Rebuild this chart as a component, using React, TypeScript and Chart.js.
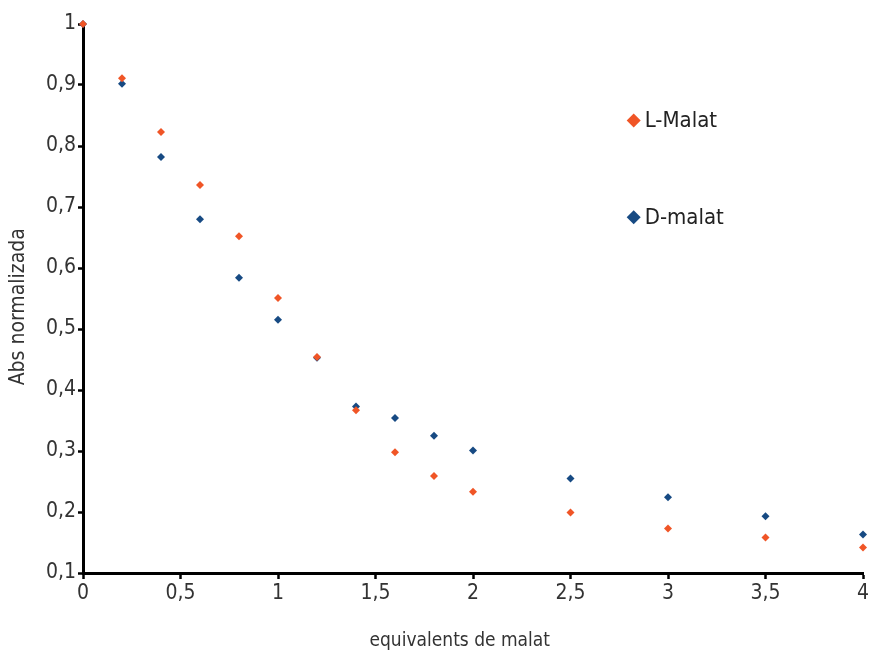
import React, { useEffect, useRef } from "react";
import { Chart, registerables } from "chart.js";

Chart.register(...registerables);

const xValues = [0, 0.2, 0.4, 0.6, 0.8, 1.0, 1.2, 1.4, 1.6, 1.8, 2.0, 2.5, 3.0, 3.5, 4.0];
const lMalat = [1.0, 0.911, 0.823, 0.736, 0.652, 0.551, 0.454, 0.367, 0.298, 0.259, 0.233, 0.199, 0.173, 0.158, 0.142];
const dMalat = [1.0, 0.902, 0.782, 0.68, 0.584, 0.515, 0.453, 0.373, 0.354, 0.325, 0.301, 0.255, 0.224, 0.193, 0.163];
const seriesNames = ["L-Malat", "D-malat"];
const xTitle = "equivalents de malat";
const yTitle = "Abs normalizada";

const ORANGE = "#F05526";
const BLUE = "#174A83";
const FONT = "'Liberation Sans Narrow', 'Arial Narrow', 'DejaVu Sans Condensed', sans-serif";

const fmt = (v: number) => String(Math.round(v * 10) / 10).replace(".", ",");

const labelsPlugin = {
  id: "customLabels",
  afterDraw(chart: any) {
    const { ctx, chartArea } = chart;
    const w = chartArea.right - chartArea.left;
    const h = chartArea.bottom - chartArea.top;
    const items = [
      { label: seriesNames[0], color: ORANGE, fy: 0.176 },
      { label: seriesNames[1], color: BLUE, fy: 0.352 },
    ];
    ctx.save();
    items.forEach((it) => {
      const cx = chartArea.left + w * 0.706;
      const cy = chartArea.top + h * it.fy;
      const r = 7;
      ctx.beginPath();
      ctx.moveTo(cx, cy - r);
      ctx.lineTo(cx + r, cy);
      ctx.lineTo(cx, cy + r);
      ctx.lineTo(cx - r, cy);
      ctx.closePath();
      ctx.fillStyle = it.color;
      ctx.fill();
      ctx.fillStyle = "#222";
      ctx.font = `22px ${FONT}`;
      ctx.textBaseline = "middle";
      ctx.textAlign = "left";
      ctx.fillText(it.label, cx + 11, cy + 1);
    });
    // axis titles
    ctx.fillStyle = "#333";
    ctx.textAlign = "center";
    ctx.textBaseline = "middle";
    ctx.font = `19px ${FONT}`;
    ctx.fillText(xTitle, chartArea.left + w * 0.483, chartArea.bottom + 68);
    ctx.save();
    ctx.translate(19, chartArea.top + h * 0.515);
    ctx.rotate(-Math.PI / 2);
    ctx.font = `21px ${FONT}`;
    ctx.fillText(yTitle, 0, 0);
    ctx.restore();
    ctx.restore();
  },
};

export default function App() {
  const ref = useRef<HTMLCanvasElement | null>(null);
  useEffect(() => {
    if (!ref.current) return;
    const chart = new Chart(ref.current, {
      type: "scatter",
      data: {
        datasets: [
          {
            label: seriesNames[0],
            data: xValues.map((x, i) => ({ x, y: lMalat[i] })),
            backgroundColor: ORANGE,
            borderColor: ORANGE,
            pointStyle: "rectRot",
            pointRadius: 4,
            borderWidth: 0,
            clip: false,
          },
          {
            label: seriesNames[1],
            data: xValues.map((x, i) => ({ x, y: dMalat[i] })),
            backgroundColor: BLUE,
            borderColor: BLUE,
            pointStyle: "rectRot",
            pointRadius: 4,
            borderWidth: 0,
            clip: false,
          },
        ],
      },
      options: {
        animation: false,
        responsive: true,
        maintainAspectRatio: false,
        layout: { padding: { top: 24, right: 0, left: 0, bottom: 0 } },
        plugins: {
          legend: { display: false },
          tooltip: { enabled: false },
        },
        scales: {
          x: {
            type: "linear",
            min: 0,
            max: 4,
            afterFit: (s: any) => {
              s.height = 82;
              s.paddingRight = 6;
              s.paddingLeft = 0;
            },
            grid: {
              display: true,
              drawOnChartArea: false,
              drawTicks: true,
              tickLength: 6,
              tickWidth: 2.5,
              tickColor: "#000",
            },
            border: { display: true, color: "#000", width: 3 },
            ticks: {
              stepSize: 0.5,
              color: "#333",
              padding: 2,
              font: { family: FONT, size: 21 },
              callback: (v: any) => fmt(Number(v)),
            },
            title: { display: false },
          },
          y: {
            type: "linear",
            min: 0.1,
            max: 1,
            afterFit: (s: any) => {
              s.width = 83;
            },
            grid: {
              display: true,
              drawOnChartArea: false,
              drawTicks: true,
              tickLength: 5,
              tickWidth: 2.5,
              tickColor: "#000",
            },
            border: { display: true, color: "#000", width: 3 },
            ticks: {
              stepSize: 0.1,
              color: "#333",
              padding: 2,
              font: { family: FONT, size: 21 },
              callback: (v: any) => fmt(Number(v)),
            },
            title: { display: false },
          },
        },
      },
      plugins: [labelsPlugin],
    });
    return () => chart.destroy();
  }, []);
  return (
    <div style={{ position: "fixed", left: 0, top: 0, width: 869, height: 655, background: "#fff" }}>
      <canvas ref={ref} />
    </div>
  );
}
